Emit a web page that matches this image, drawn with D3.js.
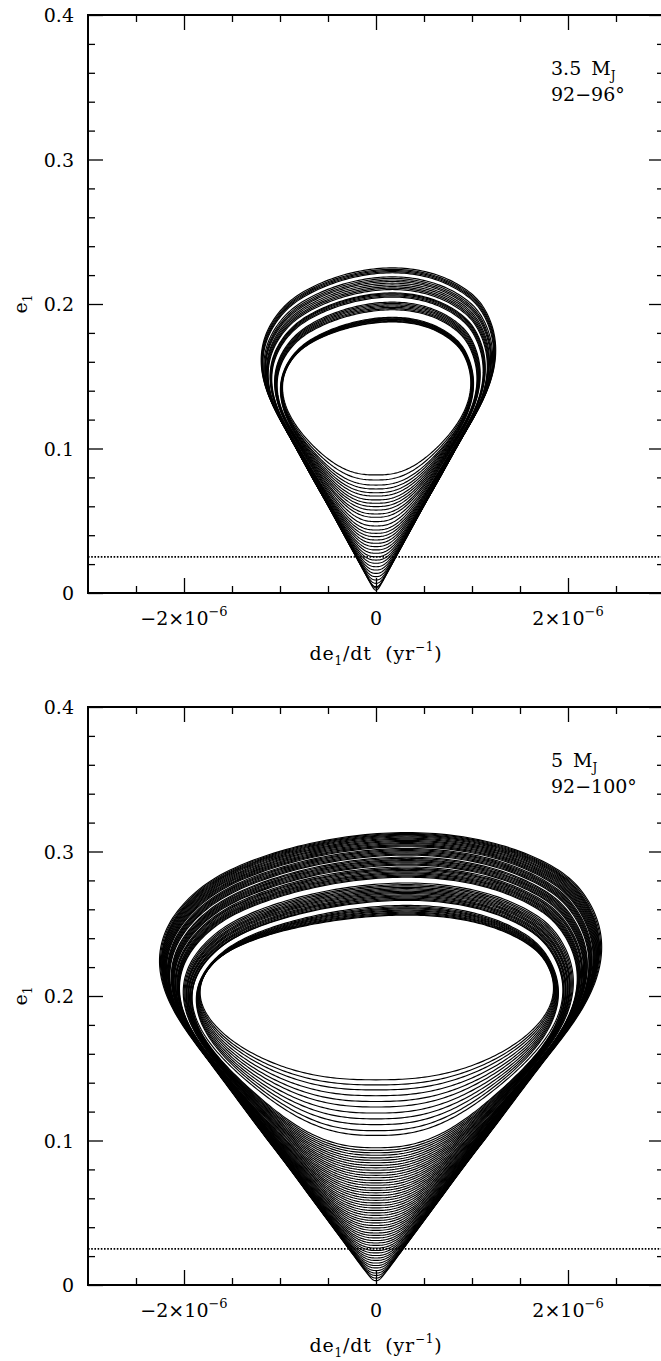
<!DOCTYPE html>
<html lang="en">
<head>
	<meta charset="utf-8">
	<title>e1 vs de1/dt phase loops</title>
	<script src="https://d3js.org/d3.v7.min.js"></script>
	<style type="text/css">
		body { margin: 0; background: #fff; }
		svg text { font-family: "DejaVu Serif", "Liberation Serif", serif; fill: #000; }
		.Axis path { display: none; }
		.Axis line { stroke: #000; stroke-width: 1.3; }
		.Axis text { display: none; }
	</style>
</head>
<body>
	<svg id="placeholder1"></svg>

	<script type="text/javascript">
		//============================================================
		//                          data
		//============================================================

		// axis ticks (x in units of 1e-6 yr^-1)
		var rateUnit = 1e-6
		var xMajor = [-2, 0, 2]
		var xMinor = [-2.5, -1.5, -1, -0.5, 0.5, 1, 1.5, 2.5]
		var xLabels = [{v: -2, base: "\u22122\u00d710", exp: "\u22126"}, {v: 0, base: "0", exp: ""}, {v: 2, base: "2\u00d710", exp: "\u22126"}]
		var yMajor = [0, 0.1, 0.2, 0.3, 0.4]
		var yMinor = [0.02, 0.04, 0.06, 0.08, 0.12, 0.14, 0.16, 0.18, 0.22, 0.24, 0.26, 0.28, 0.32, 0.34, 0.36, 0.38]
		var yLabels = ["0", "0.1", "0.2", "0.3", "0.4"]
		var dottedLevel = 0.025

		// half-width of one cycle (fraction of its peak |de/dt|), read off the outer loop,
		// at equal steps of the cycle phase from e min (first) to e max (last)
		var shapeU = [0, 0.009, 0.037, 0.082, 0.143, 0.22, 0.31, 0.41, 0.525, 0.64, 0.76,
			0.885, 0.97, 1.0, 0.975, 0.90, 0.79, 0.615, 0.42, 0.21, 0]

		// panel 1: 3.5 MJ, 92-96 deg  (e max of each cycle, e min, peak |de/dt|)
		var p1Max = [0.1876, 0.1880, 0.1885, 0.1890, 0.1894, 0.1898, 0.1903, 0.1908,
			0.1960, 0.1968, 0.1977, 0.1986, 0.1995, 0.2004, 0.2013,
			0.2048, 0.2056, 0.2064, 0.2071, 0.2077,
			0.2100, 0.2110, 0.2120, 0.2132, 0.2144, 0.2156, 0.2166, 0.2177, 0.2188,
			0.2216, 0.2224, 0.2232, 0.2240, 0.2250]
		var p1Min = [0.0817, 0.0782, 0.0747, 0.0720, 0.0694, 0.0671, 0.0644, 0.0621,
			0.0598, 0.0574, 0.0547, 0.0524, 0.0494, 0.0464, 0.0436,
			0.0413, 0.0390, 0.0367, 0.0344, 0.0321,
			0.0298, 0.0275, 0.0251, 0.0228, 0.0206, 0.0182, 0.0159, 0.0136, 0.0113,
			0.0090, 0.0067, 0.0044, 0.0035, 0.0020]
		var p1Peak = [0.98, 0.985, 0.99, 0.99, 0.995, 1.0, 1.0, 1.005,
			1.04, 1.045, 1.05, 1.055, 1.06, 1.065, 1.07,
			1.10, 1.105, 1.11, 1.115, 1.12,
			1.14, 1.145, 1.15, 1.155, 1.16, 1.17, 1.175, 1.18, 1.19,
			1.20, 1.205, 1.21, 1.215, 1.22]

		// panel 2: 5 MJ, 92-100 deg
		var p2Max = [0.2560, 0.2566, 0.2573, 0.2580, 0.2588, 0.2595, 0.2603, 0.2610, 0.2618, 0.2627,
			0.2662, 0.2669, 0.2677, 0.2685, 0.2692, 0.2700, 0.2709, 0.2717, 0.2725, 0.2734, 0.2743, 0.2752, 0.2762, 0.2771, 0.2782,
			0.2822, 0.2829, 0.2837, 0.2845, 0.2852, 0.2860, 0.2869, 0.2877, 0.2884, 0.2893,
			0.2906, 0.2913, 0.2921, 0.2929, 0.2937, 0.2944, 0.2953, 0.2961,
			0.2975, 0.2982, 0.2990, 0.2998, 0.3006, 0.3013, 0.3021,
			0.3033, 0.3040, 0.3047, 0.3055, 0.3062, 0.3070, 0.3077, 0.3085, 0.3092, 0.3100, 0.3107, 0.3113, 0.3119, 0.3125, 0.3131]
		var p2Min = [0.1420, 0.1385, 0.1350, 0.1310, 0.1270, 0.1232, 0.1190, 0.1150, 0.1110, 0.1068,
			0.1035, 0.0950, 0.0932, 0.0915, 0.0898, 0.0880, 0.0863, 0.0846, 0.0828, 0.0811, 0.0794, 0.0776, 0.0759, 0.0742, 0.0724,
			0.0707, 0.0690, 0.0672, 0.0655, 0.0638, 0.0620, 0.0603, 0.0586, 0.0568, 0.0551,
			0.0534, 0.0516, 0.0499, 0.0482, 0.0464, 0.0447, 0.0430, 0.0412,
			0.0395, 0.0378, 0.0360, 0.0343, 0.0326, 0.0308, 0.0291,
			0.0274, 0.0256, 0.0239, 0.0222, 0.0204, 0.0187, 0.0170, 0.0152, 0.0135, 0.0118, 0.0100, 0.0083, 0.0066, 0.0048, 0.0030]
		var p2Peak = [1.84, 1.845, 1.85, 1.855, 1.86, 1.865, 1.87, 1.875, 1.88, 1.885,
			1.93, 1.935, 1.94, 1.95, 1.955, 1.96, 1.97, 1.975, 1.98, 1.99, 1.995, 2.0, 2.01, 2.02, 2.03,
			2.07, 2.075, 2.08, 2.085, 2.09, 2.095, 2.10, 2.11, 2.115, 2.12,
			2.13, 2.135, 2.14, 2.145, 2.15, 2.155, 2.16, 2.165,
			2.18, 2.185, 2.19, 2.195, 2.20, 2.205, 2.21,
			2.22, 2.225, 2.23, 2.235, 2.24, 2.245, 2.25, 2.255, 2.26, 2.265, 2.27, 2.275, 2.28, 2.29, 2.30]

		var panels = [
			{top: 15, eMax: p1Max, eMin: p1Min, peak: p1Peak, skew: 0.17, mass: "3.5", angle: "92\u221296\u00b0"},
			{top: 707, eMax: p2Max, eMin: p2Min, peak: p2Peak, skew: 0.32, mass: "5", angle: "92\u2212100\u00b0"}
		]

		//============================================================
		//                          init
		//============================================================
		var wholeW = 661
		var wholeH = 1361
		var plotL = 88, plotR = 664, plotH = 578
		var fontSize = 19

		var svg = d3.select("#placeholder1")
			.attr("width", wholeW)
			.attr("height", wholeH)

		var xScale = d3.scaleLinear().domain([-3 * rateUnit, 3 * rateUnit]).range([plotL, plotR])
		var shapeOf = d3.interpolateBasis(shapeU)

		// one cycle: right branch (e rising) then left branch (e falling)
		function loopPoints(e0, e1, peak, skew) {
			var n = 160, raw = []
			for (var i = 0; i <= n; i++) {
				var th = Math.PI * i / n
				var e = e0 + (e1 - e0) * (1 - Math.cos(th)) / 2
				var t = Math.min(e / e1, 1)
				var s = Math.acos(1 - 2 * t) / Math.PI
				var c = e > e0 ? Math.pow(1 - Math.pow(e0 / e, 2.5), 0.4) : 0
				var w = shapeOf(s) * c
				var sh = skew * Math.pow((e - e0) / (e1 - e0), 6)
				raw.push({e: e, w: w, s: sh})
			}
			var k = peak / d3.max(raw, d => d.w)
			var right = raw.map(d => ({r: d.w * k + d.s, e: d.e}))
			var left = raw.slice().reverse().map(d => ({r: -d.w * k + d.s, e: d.e}))
			return right.concat(left)
		}

		panels.forEach(p => {
			var yScale = d3.scaleLinear().domain([0, 0.4]).range([p.top + plotH, p.top])
			var bottom = p.top + plotH
			var g = svg.append("g")

			// dotted level
			var hline = d3.line().x(d => xScale(d[0] * rateUnit)).y(d => yScale(d[1]))
			g.append("path")
				.attr("d", hline([[-3, dottedLevel], [3, dottedLevel]]))
				.attr("stroke", "#000")
				.attr("stroke-width", 1.6)
				.attr("stroke-dasharray", "1.6,1.6")
				.attr("fill", "none")

			// loops
			var loopLine = d3.line()
				.x(d => xScale(d.r * rateUnit))
				.y(d => yScale(d.e))
				.curve(d3.curveLinearClosed)
			p.eMax.forEach((e1, i) => {
				g.append("path")
					.attr("d", loopLine(loopPoints(p.eMin[i], e1, p.peak[i], p.skew)))
					.attr("fill", "none")
					.attr("stroke", "#000")
					.attr("stroke-width", 1.15)
			})

			// axes: ticks inward on all four sides
			var xs = d3.scaleLinear().domain([-3, 3]).range([plotL, plotR])
			function addAxis(gen, vals, size, tx, ty) {
				g.append("g").attr("class", "Axis")
					.attr("transform", "translate(" + tx + "," + ty + ")")
					.call(gen.tickValues(vals).tickSizeInner(-size).tickSizeOuter(0).tickFormat(""))
			}
			addAxis(d3.axisBottom(xs), xMajor, 15, 0, bottom)
			addAxis(d3.axisBottom(xs), xMinor, 7, 0, bottom)
			addAxis(d3.axisTop(xs), xMajor, 15, 0, p.top)
			addAxis(d3.axisTop(xs), xMinor, 7, 0, p.top)
			addAxis(d3.axisLeft(yScale), yMajor, 15, plotL, 0)
			addAxis(d3.axisLeft(yScale), yMinor, 7, plotL, 0)
			addAxis(d3.axisRight(yScale), yMajor, 15, plotR, 0)
			addAxis(d3.axisRight(yScale), yMinor, 7, plotR, 0)

			g.append("rect")
				.attr("x", plotL).attr("y", p.top)
				.attr("width", plotR - plotL).attr("height", plotH)
				.attr("fill", "none").attr("stroke", "#000").attr("stroke-width", 2)

			// y tick labels
			yMajor.forEach((v, i) => {
				g.append("text")
					.attr("x", 74).attr("y", yScale(v) + 7)
					.attr("text-anchor", "end")
					.style("font-size", fontSize + "px")
					.text(yLabels[i])
			})

			// x tick labels
			xLabels.forEach(l => {
				var t = g.append("text")
					.attr("x", xs(l.v)).attr("y", bottom + 32)
					.attr("text-anchor", "middle")
					.style("font-size", fontSize + "px")
				t.append("tspan").text(l.base)
				if (l.exp) t.append("tspan").attr("dy", -9).style("font-size", "13px").text(l.exp)
			})

			// x title
			var xt = g.append("text")
				.attr("x", xs(0)).attr("y", bottom + 67)
				.attr("text-anchor", "middle")
				.style("font-size", fontSize + "px")
				.style("letter-spacing", "0.8px")
			xt.append("tspan").text("de")
			xt.append("tspan").attr("dy", 5).style("font-size", "12px").text("1")
			xt.append("tspan").attr("dy", -5).text("/dt\u00a0\u00a0(yr")
			xt.append("tspan").attr("dy", -9).style("font-size", "12px").text("\u22121")
			xt.append("tspan").attr("dy", 9).text(")")

			// y title
			var yt = g.append("text")
				.attr("transform", "translate(27," + yScale(0.2) + ") rotate(-90)")
				.attr("text-anchor", "middle")
				.style("font-size", fontSize + "px")
			yt.append("tspan").text("e")
			yt.append("tspan").attr("dy", 5).style("font-size", "12px").text("1")

			// annotation
			var a1 = g.append("text")
				.attr("x", 551).attr("y", p.top + 60)
				.style("font-size", fontSize + "px")
			a1.append("tspan").text(p.mass)
			a1.append("tspan").attr("dx", 10).text("M")
			a1.append("tspan").attr("dy", 5).style("font-size", "12px").text("J")
			g.append("text")
				.attr("x", 551).attr("y", p.top + 86)
				.style("font-size", fontSize + "px")
				.text(p.angle)
		})
	</script>
</body>
</html>
